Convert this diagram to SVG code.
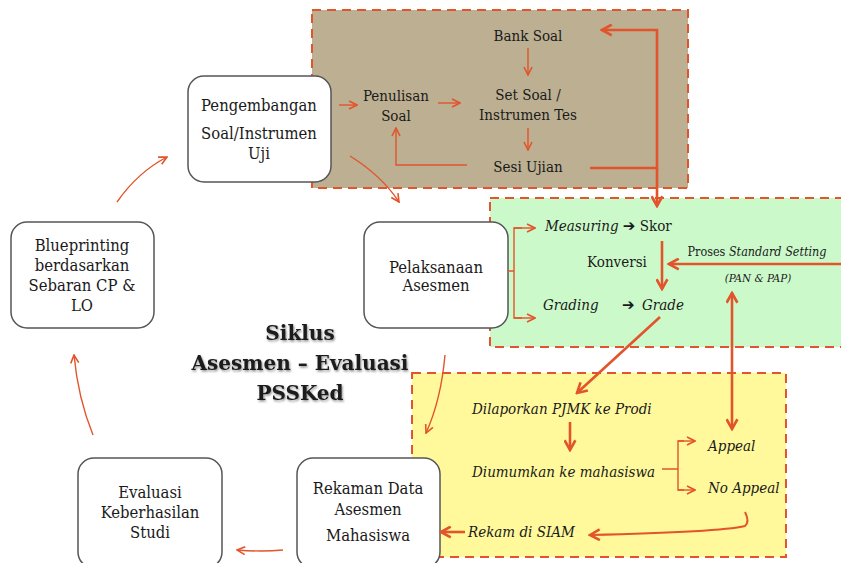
<svg xmlns="http://www.w3.org/2000/svg" width="841" height="563" viewBox="0 0 841 563">
  <style>
    .t { font-family: "DejaVu Serif Condensed", "DejaVu Serif", "Liberation Serif", serif; font-size: 16.5px; fill: #1a1a1a; text-anchor: middle; }
    .m { font-size: 15px; }
    .s { text-anchor: start; }
    .i { font-style: italic; }
    .node { fill: #ffffff; stroke: #555555; stroke-width: 1.5; }
    .zone { stroke: #E2542B; stroke-width: 2; stroke-dasharray: 9 6; }
    .thin { fill: none; stroke: #E2542B; stroke-width: 1.4; }
    .thick { fill: none; stroke: #E2542B; stroke-width: 2.6; }
    .title { font-family: "DejaVu Serif", "Liberation Serif", serif; font-weight: bold; font-size: 20px; fill: #1a1a1a; text-anchor: middle; }
    .sym { font-family: "DejaVu Sans", sans-serif; font-weight: bold; font-style: normal; }
  </style>
  <defs>
    <marker id="ah" viewBox="0 0 10 10" refX="9" refY="5" markerWidth="10" markerHeight="10" markerUnits="userSpaceOnUse" orient="auto-start-reverse">
      <path d="M1,1 L9,5 L1,9" fill="none" stroke="#E2542B" stroke-width="1.6"/>
    </marker>
    <marker id="ahb" viewBox="0 0 12 12" refX="10.5" refY="6" markerWidth="13" markerHeight="13" markerUnits="userSpaceOnUse" orient="auto-start-reverse">
      <path d="M1.5,1 L10.5,6 L1.5,11" fill="none" stroke="#E2542B" stroke-width="2.4"/>
    </marker>
    <filter id="shadow" x="-10%" y="-30%" width="120%" height="160%">
      <feDropShadow dx="1" dy="1.5" stdDeviation="1.2" flood-color="#000" flood-opacity="0.45"/>
    </filter>
  </defs>

  <rect width="841" height="563" fill="#ffffff"/>

  <!-- process zones -->
  <g id="zone-bank">
    <rect class="zone" x="312" y="10" width="376" height="178" fill="#BCAF92"/>
  </g>
  <g id="zone-grading">
    <rect class="zone" x="490" y="198" width="360" height="149" fill="#CCF9CA"/>
  </g>
  <g id="zone-report">
    <rect class="zone" x="412" y="373" width="374" height="184" fill="#FFF99C"/>
  </g>

  <!-- cycle nodes -->
  <g id="node-pengembangan">
    <rect class="node" x="188" y="76" width="143" height="106" rx="16"/>
    <text class="t" x="259" y="111">Pengembangan</text>
    <text class="t" x="259" y="139">Soal/Instrumen</text>
    <text class="t" x="259" y="159">Uji</text>
  </g>
  <g id="node-blueprinting">
    <rect class="node" x="11" y="222" width="143" height="106" rx="16"/>
    <text class="t" x="82" y="251">Blueprinting</text>
    <text class="t" x="82" y="271">berdasarkan</text>
    <text class="t" x="82" y="291">Sebaran CP &amp;</text>
    <text class="t" x="82" y="311">LO</text>
  </g>
  <g id="node-pelaksanaan">
    <rect class="node" x="364" y="222" width="144" height="106" rx="16"/>
    <text class="t" x="436" y="273">Pelaksanaan</text>
    <text class="t" x="436" y="291">Asesmen</text>
  </g>
  <g id="node-evaluasi">
    <rect class="node" x="78" y="458" width="144" height="110" rx="16"/>
    <text class="t" x="150" y="498">Evaluasi</text>
    <text class="t" x="150" y="518">Keberhasilan</text>
    <text class="t" x="150" y="538">Studi</text>
  </g>
  <g id="node-rekaman">
    <rect class="node" x="297" y="458" width="143" height="110" rx="16"/>
    <text class="t" x="368" y="494">Rekaman Data</text>
    <text class="t" x="368" y="515">Asesmen</text>
    <text class="t" x="368" y="541">Mahasiswa</text>
  </g>

  <!-- cycle title -->
  <g id="title" filter="url(#shadow)">
    <text class="title" x="300" y="340">Siklus</text>
    <text class="title" x="300" y="370">Asesmen – Evaluasi</text>
    <text class="title" x="300" y="400">PSSKed</text>
  </g>

  <!-- question bank steps -->
  <g id="node-bank-soal"><text class="t m" x="528" y="41">Bank Soal</text></g>
  <g id="node-set-soal">
    <text class="t m" x="528" y="100">Set Soal /</text>
    <text class="t m" x="528" y="120">Instrumen Tes</text>
  </g>
  <g id="node-sesi-ujian"><text class="t m" x="528" y="172">Sesi Ujian</text></g>
  <g id="node-penulisan">
    <text class="t m" x="396" y="101">Penulisan</text>
    <text class="t m" x="396" y="121">Soal</text>
  </g>

  <!-- measuring and grading -->
  <g id="node-measuring">
    <text class="t m s" x="545" y="231"><tspan class="i">Measuring</tspan> <tspan class="sym">➔</tspan> Skor</text>
  </g>
  <g id="node-konversi"><text class="t m" x="617" y="267">Konversi</text></g>
  <g id="node-grading">
    <text class="t m s i" x="543" y="310">Grading</text>
    <text class="t m s sym" x="622" y="310">➔</text>
    <text class="t m s i" x="642" y="310">Grade</text>
  </g>
  <g id="node-standard-setting">
    <text class="t" x="757" y="256" style="font-size:12.5px">Proses <tspan class="i">Standard Setting</tspan></text>
    <text class="t i" x="758" y="282" style="font-size:11.5px">(PAN &amp; PAP)</text>
  </g>

  <!-- reporting steps -->
  <g id="node-dilaporkan"><text class="t m s i" x="472" y="414">Dilaporkan PJMK ke Prodi</text></g>
  <g id="node-diumumkan"><text class="t m s i" x="472" y="477">Diumumkan ke mahasiswa</text></g>
  <g id="node-appeal"><text class="t m s i" x="708" y="451">Appeal</text></g>
  <g id="node-no-appeal"><text class="t m s i" x="708" y="493">No Appeal</text></g>
  <g id="node-rekam-siam"><text class="t m s i" x="468" y="537">Rekam di SIAM</text></g>

  <!-- connectors -->
  <g id="connectors">
    <!-- outer cycle -->
    <path class="thin" d="M117,202 Q138,172 167,157" marker-end="url(#ah)"/>
    <path class="thin" d="M350,156 Q382,176 399,202" marker-end="url(#ah)"/>
    <path class="thin" d="M445,355 Q441,400 426,433" marker-end="url(#ah)"/>
    <path class="thin" d="M283,550 Q262,552 237,550" marker-end="url(#ah)"/>
    <path class="thin" d="M93,435 Q78,398 74,355" marker-end="url(#ah)"/>

    <!-- question bank flow -->
    <path class="thin" d="M339,105 L357,105" marker-end="url(#ah)"/>
    <path class="thin" d="M438,103 L460,103" marker-end="url(#ah)"/>
    <path class="thin" d="M528,48 L528,75" marker-end="url(#ah)"/>
    <path class="thin" d="M528,128 L528,150" marker-end="url(#ah)"/>
    <path class="thin" d="M467,165 L396,165 L396,128" marker-end="url(#ah)"/>
    <path class="thick" d="M590,168 L657,168 L657,30 L602,30" marker-end="url(#ahb)"/>
    <path class="thick" d="M657,168 L657,206" marker-end="url(#ahb)"/>

    <!-- execution to measuring / grading -->
    <path class="thin" d="M508,271 L514,271 M522,228 L514,228 L514,318 L522,318"/>
    <path class="thin" d="M514,228 L535,228" marker-end="url(#ah)"/>
    <path class="thin" d="M514,318 L535,318" marker-end="url(#ah)"/>

    <!-- grading flow -->
    <path class="thick" d="M662,241 L662,289" marker-end="url(#ahb)"/>
    <path class="thick" d="M841,264 L669,264" marker-end="url(#ahb)"/>
    <path class="thick" d="M732,293 L732,429" marker-start="url(#ahb)" marker-end="url(#ahb)"/>
    <path class="thick" d="M660,317 L577,393" marker-end="url(#ahb)"/>

    <!-- reporting flow -->
    <path class="thick" d="M570,422 L570,450" marker-end="url(#ahb)"/>
    <path class="thin" d="M662,469 L678,469 M684,441 L678,441 L678,490 L684,490"/>
    <path class="thin" d="M678,441 L695,441" marker-end="url(#ah)"/>
    <path class="thin" d="M678,490 L695,490" marker-end="url(#ah)"/>
    <path class="thick" d="M745,512 Q750,522 745,526 Q720,532 590,535" marker-end="url(#ahb)" style="stroke-width:2"/>
    <path class="thick" d="M465,532 L441,532" marker-end="url(#ahb)"/>
  </g>
</svg>
